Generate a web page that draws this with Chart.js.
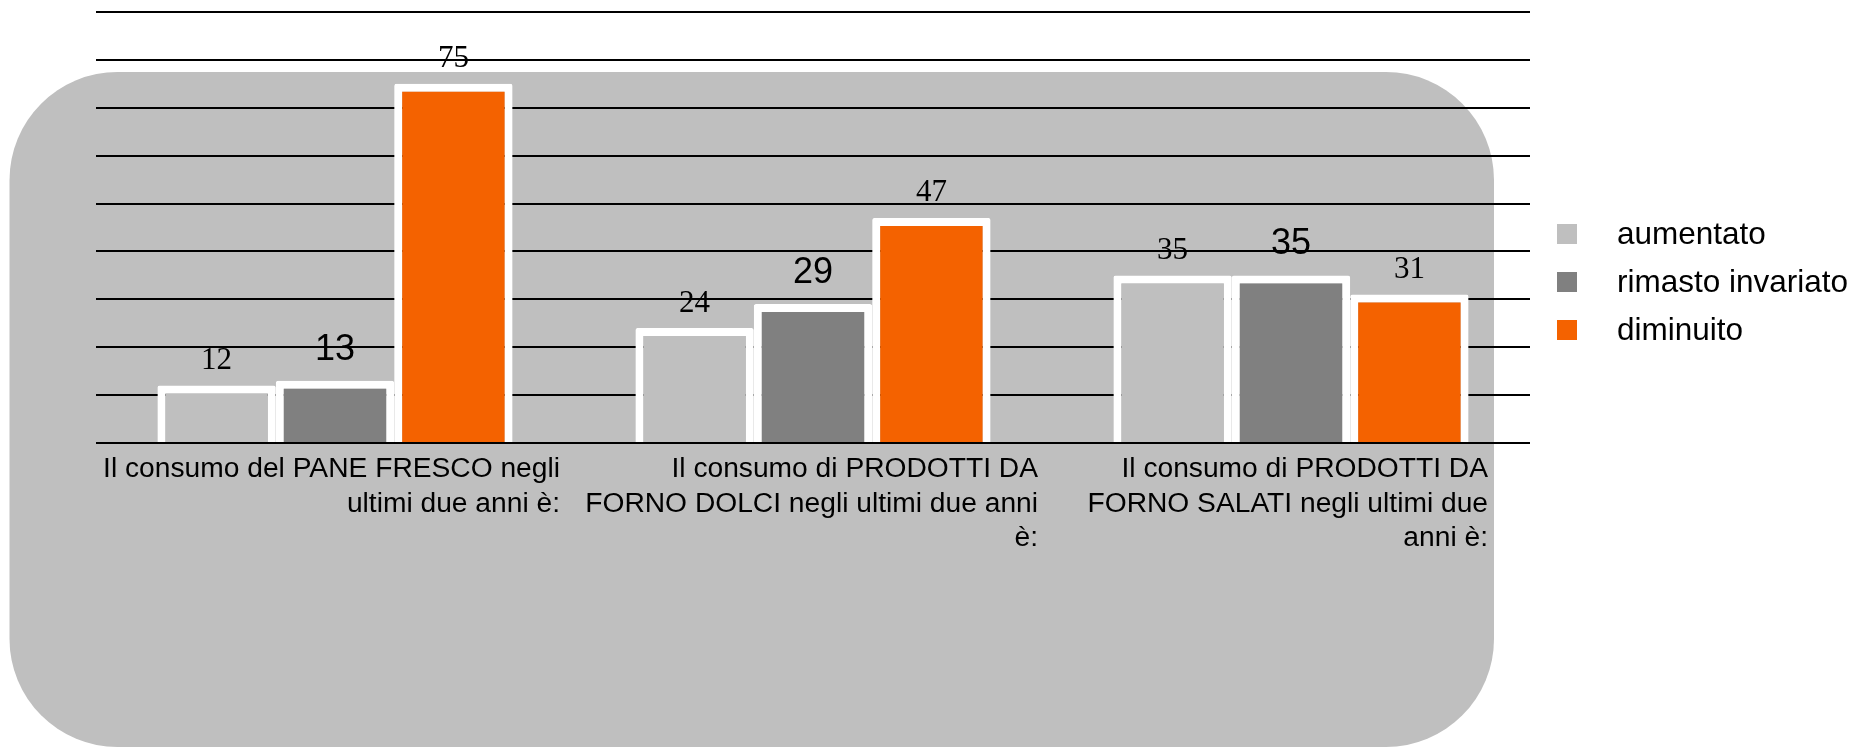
<!DOCTYPE html>
<html>
<head>
<meta charset="utf-8">
<script src="https://cdn.jsdelivr.net/npm/chart.js@4"></script>
<style>
  html, body { margin: 0; padding: 0; background: #fff; }
  #wrap { width: 1856px; height: 747px; }
</style>
</head>
<body>
<div id="wrap"><canvas id="consumiChart"></canvas></div>
<script>
const LIGHT  = '#BFBFBF';
const DARK   = '#808080';
const ORANGE = '#F46200';
const SANS   = '"Liberation Sans", Arial, sans-serif';
const SERIF  = '"Liberation Serif", "Times New Roman", serif';

// categories (wrapped as in the original), one array per answer
const categories = [
  ['Il consumo del PANE FRESCO negli', 'ultimi due anni è:'],
  ['Il consumo di PRODOTTI DA', 'FORNO DOLCI negli ultimi due anni', 'è:'],
  ['Il consumo di PRODOTTI DA', 'FORNO SALATI negli ultimi due', 'anni è:']
];
const seriesNames      = ['aumentato', 'rimasto invariato', 'diminuito'];
const aumentato        = [12, 24, 35];
const rimastoInvariato = [13, 29, 35];
const diminuito        = [75, 47, 31];
const yMin = 0, yMax = 90, yStep = 10;

// background panel, value labels, wrapped category labels, legend
const decor = {
  id: 'decor',
  beforeDraw(chart) {
    const ctx = chart.ctx;
    ctx.save();
    ctx.fillStyle = LIGHT;
    ctx.beginPath();
    ctx.roundRect(9.5, 72, 1484.5, 675, 108);
    ctx.fill();
    ctx.restore();
  },
  afterDatasetsDraw(chart) {
    const ctx = chart.ctx;
    ctx.save();
    ctx.fillStyle = '#000';
    ctx.textAlign = 'center';
    ctx.textBaseline = 'alphabetic';
    chart.data.datasets.forEach((ds, i) => {
      ctx.font = ds.labelFont;
      chart.getDatasetMeta(i).data.forEach((bar, j) => {
        ctx.fillText(String(ds.data[j]), bar.x, bar.y - ds.labelGap);
      });
    });
    ctx.restore();
  },
  afterDraw(chart) {
    const ctx = chart.ctx;
    const area = chart.chartArea;
    const xs = chart.scales.x;
    ctx.save();
    ctx.fillStyle = '#000';
    ctx.font = '28.2px ' + SANS;
    ctx.textAlign = 'right';
    ctx.textBaseline = 'alphabetic';
    categories.forEach((lines, i) => {
      const right = Math.min(xs.getPixelForTick(i) + 225, area.right - 42);
      lines.forEach((t, k) => ctx.fillText(t, right, area.bottom + 34 + k * 34.5));
    });

    // legend
    ctx.textAlign = 'left';
    ctx.textBaseline = 'middle';
    ctx.font = '31.5px ' + SANS;
    chart.data.datasets.forEach((ds, i) => {
      const cy = area.top + 222 + i * 48;
      ctx.fillStyle = ds.backgroundColor;
      ctx.fillRect(area.right + 27, cy - 10, 20, 20);
      ctx.fillStyle = '#000';
      ctx.fillText(ds.label, area.right + 87, cy + 1);
    });
    ctx.restore();
  }
};

new Chart('consumiChart', {
  type: 'bar',
  data: {
    labels: categories,
    datasets: [
      { label: seriesNames[0], data: aumentato, backgroundColor: LIGHT,
        labelFont: '31px ' + SERIF, labelGap: 16.5 },
      { label: seriesNames[1], data: rimastoInvariato, backgroundColor: DARK,
        labelFont: '36px ' + SANS, labelGap: 21 },
      { label: seriesNames[2], data: diminuito, backgroundColor: ORANGE,
        labelFont: '31px ' + SERIF, labelGap: 16.5 }
    ]
  },
  options: {
    responsive: true,
    maintainAspectRatio: false,
    animation: false,
    layout: { padding: { left: 96, right: 326, top: 12, bottom: 304 } },
    datasets: {
      bar: {
        categoryPercentage: 0.743,
        barPercentage: 1,
        borderColor: '#fff',
        borderWidth: 8,
        borderRadius: 2
      }
    },
    plugins: { legend: { display: false }, tooltip: { enabled: false } },
    scales: {
      x: {
        ticks: { display: false },
        grid: { display: false, drawTicks: false },
        border: { display: false }
      },
      y: {
        min: yMin, max: yMax,
        ticks: { display: false, stepSize: yStep },
        grid: { color: '#000', lineWidth: 2, drawTicks: false },
        border: { display: false }
      }
    }
  },
  plugins: [decor]
});
</script>
</body>
</html>
